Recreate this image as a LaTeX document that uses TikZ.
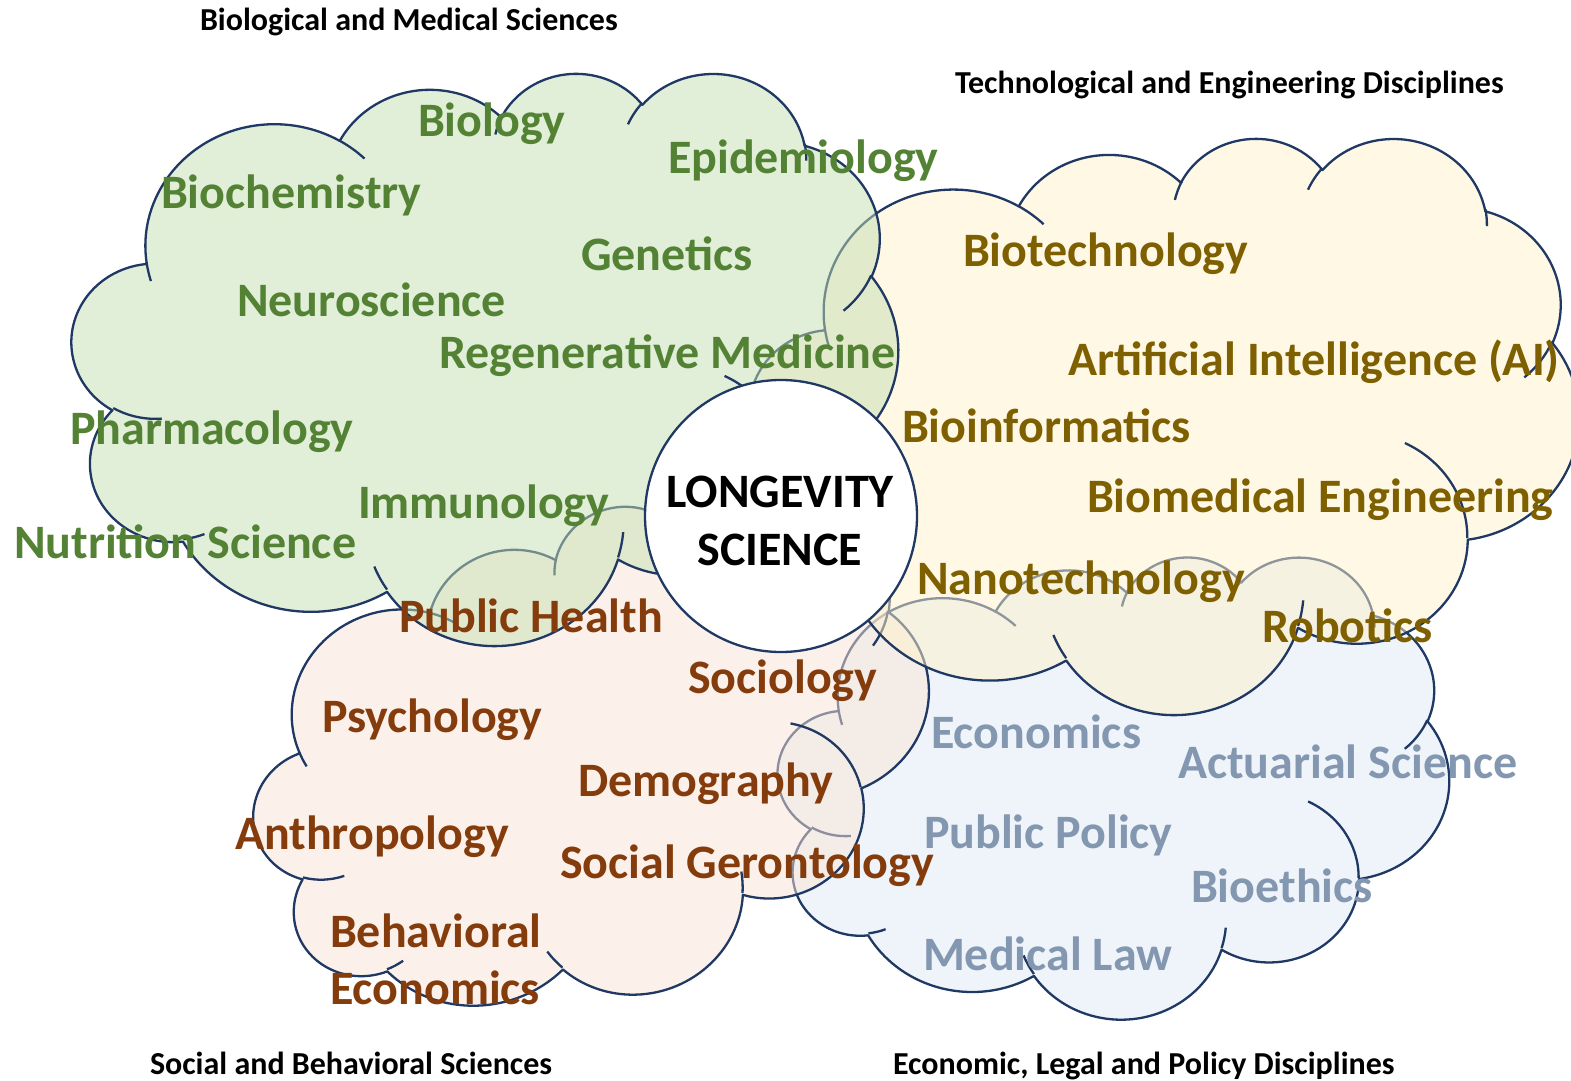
\documentclass[tikz,border=0pt]{standalone}
\usepackage{fontspec}
\setmainfont{Carlito}

\definecolor{rimc}{HTML}{1F3864}
\definecolor{gfill}{HTML}{C5E0B4}
\definecolor{yfill}{HTML}{FFF2CC}
\definecolor{pfill}{HTML}{FBE5D6}
\definecolor{bfill}{HTML}{DEEBF7}
\definecolor{gtext}{HTML}{548235}
\definecolor{ytext}{HTML}{7F6000}
\definecolor{ptext}{HTML}{843C0C}
\definecolor{btext}{HTML}{8497B0}

% elliptical arc given by geometric start angle and sweep (degrees, y down)
\newcommand\ca[4]{arc[x radius=#1, y radius=#2, start angle={pa(#3,#1,#2)}, end angle={pa(#3+#4,#1,#2)}]}

% cloud outline in a 43.2 x 43.2 box
\newcommand\cloudshape{(3.9,14.37)
 \ca{6.753}{9.190}{-190.4875}{123.7805}
 \ca{5.333}{7.267}{-144.1024}{89.9452}
 \ca{4.365}{5.945}{-145.8079}{99.7230}
 \ca{4.857}{6.595}{-130.9861}{117.2417}
 \ca{5.333}{7.273}{-78.7089}{109.0269}
 \ca{6.775}{9.220}{-46.2673}{130.2690}
 \ca{5.785}{7.867}{0.6250}{114.0333}
 \ca{6.752}{9.215}{22.4516}{115.1726}
 \ca{7.720}{10.543}{66.2426}{75.7110}
 \ca{4.360}{5.918}{-274.9421}{146.7356}
 \ca{4.345}{5.945}{-246.8285}{152.5189}
 -- cycle}

% the short inner arcs of the cloud
\newcommand\cloudhooks{
 (4.693,26.177) \ca{4.345}{5.945}{86.7420}{26.4295}
 (6.928,34.899) \ca{4.360}{5.918}{73.6105}{11.4475}
 (16.478,39.090) \ca{6.752}{9.215}{137.6242}{14.0811}
 (28.827,34.751) \ca{6.752}{9.215}{6.4533}{15.9984}
 (34.129,22.954) \ca{5.785}{7.867}{-70.2924}{70.9174}
 (41.798,15.354) \ca{5.333}{7.273}{30.3180}{27.7515}
 (38.324,5.426) \ca{4.857}{6.595}{-13.7443}{14.8589}
 (29.078,3.952) \ca{4.857}{6.595}{-149.1815}{18.1954}
 (22.141,4.720) \ca{4.365}{5.945}{-163.4943}{17.6864}
 (14.000,5.192) \ca{6.753}{9.190}{-66.7070}{12.3194}
 (4.127,15.789) \ca{6.753}{9.190}{157.6544}{11.8582}}

\newcommand\drawcloud[1]{%
  \fill[#1, fill opacity=0.5] \cloudshape;
  \draw[rim] \cloudshape;
  \draw[rim] \cloudhooks;}

\begin{document}
\begin{tikzpicture}[x=1pt, y=1pt, yscale=-1,
  declare function={pa(\t,\a,\b)=\t+(atan2(\a*sin(\t),\b*cos(\t))-\t)-360*round((atan2(\a*sin(\t),\b*cos(\t))-\t)/360);},
  every node/.style={inner sep=0pt, outer sep=0pt},
  rim/.style={draw=rimc, line width=2.3pt, line join=round},
  lab/.style={font=\fontsize{48}{52}\selectfont\bfseries, anchor=base west},
  ttl/.style={font=\fontsize{32}{36}\selectfont\bfseries, anchor=base west, text=black},
  core/.style={circle, draw=rimc, line width=2.3pt, fill=white, minimum size=272pt},
  coretxt/.style={align=center, font=\fontsize{48}{58}\selectfont\bfseries, text=black}]

\fill[white] (0,0) rectangle (1571,1081);
\useasboundingbox (0,0) rectangle (1571,1081);

% Economic, Legal and Policy cloud (lowest layer)
\begin{scope}[shift={(778,556)}, xscale=671/43.2, yscale=462/43.2]
  \drawcloud{bfill}
\end{scope}

% Social and Behavioral cloud, tilted
\begin{scope}[shift={(593,759)}, rotate=-14.5, xscale=690/43.2, yscale=480/43.2, shift={(-21.6,-21.6)}]
  \drawcloud{pfill}
\end{scope}

% Technological and Engineering cloud
\begin{scope}[shift={(750,137)}, xscale=829/43.2, yscale=576/43.2]
  \drawcloud{yfill}
\end{scope}

% Biological and Medical cloud (top layer)
\begin{scope}[shift={(72,72)}, xscale=826/43.2, yscale=572/43.2]
  \drawcloud{gfill}
\end{scope}

% centre
\node[core] (core) at (781,516) {};
\node[coretxt] (coretext) at (780,521) {LONGEVITY\\SCIENCE};

% group titles
\node[ttl] (tBio) at (200,31) {Biological and Medical Sciences};
\node[ttl] (tTech) at (955,93) {Technological and Engineering Disciplines};
\node[ttl] (tSoc) at (150,1074) {Social and Behavioral Sciences};
\node[ttl] (tEco) at (893,1074) {Economic, Legal and Policy Disciplines};

% biological and medical
\begin{scope}[every node/.append style={lab, text=gtext}]
\node (gBiology) at (418,136) {Biology};
\node (gEpi) at (668,173) {Epidemiology};
\node (gBiochem) at (161,208) {Biochemistry};
\node (gGen) at (581,270) {Genetics};
\node (gNeuro) at (237,316) {Neuroscience};
\node (gRegen) at (439,368) {Regenerative Medicine};
\node (gPharm) at (70,444) {Pharmacology};
\node (gImmuno) at (358,518) {Immunology};
\node (gNutri) at (14,558) {Nutrition Science};
\end{scope}

% technological and engineering
\begin{scope}[every node/.append style={lab, text=ytext}]
\node (yBiotech) at (963,266) {Biotechnology};
\node (yAI) at (1068,375) {Artificial Intelligence (AI)};
\node (yBioinf) at (902,442) {Bioinformatics};
\node (yBiomed) at (1087,512) {Biomedical Engineering};
\node (yNano) at (917,594) {Nanotechnology};
\node (yRobot) at (1262,642) {Robotics};
\end{scope}

% social and behavioral
\begin{scope}[every node/.append style={lab, text=ptext}]
\node (pPubH) at (399,632) {Public Health};
\node (pSocio) at (688,693) {Sociology};
\node (pPsych) at (322,732) {Psychology};
\node (pDemo) at (578,796) {Demography};
\node (pAnthro) at (235,849) {Anthropology};
\node (pGeron) at (560,878) {Social Gerontology};
\node (pBehav) at (330,947) {Behavioral};
\node (pBecon) at (330,1004) {Economics};
\end{scope}

% economic, legal and policy
\begin{scope}[every node/.append style={lab, text=btext}]
\node (bEcon) at (931,748) {Economics};
\node (bActu) at (1178,778) {Actuarial Science};
\node (bPolicy) at (924,848) {Public Policy};
\node (bEthics) at (1191,902) {Bioethics};
\node (bLaw) at (923,970) {Medical Law};
\end{scope}

\end{tikzpicture}
\end{document}
